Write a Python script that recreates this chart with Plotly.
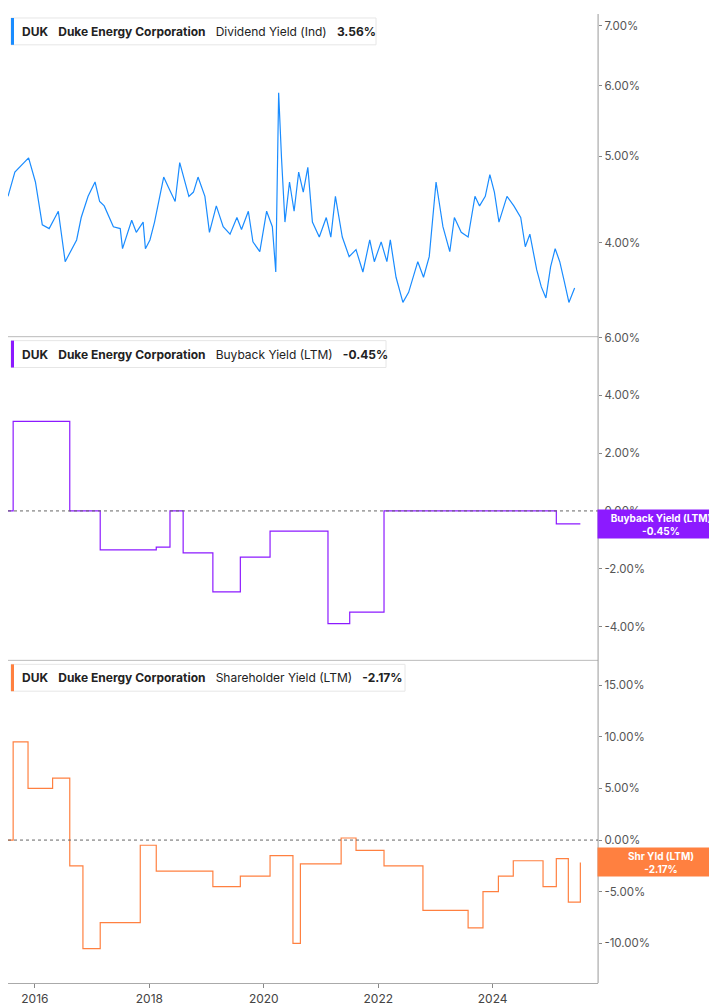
import pandas as pd
import plotly.graph_objects as go

# dividend yield (ind), % -- decimal years
div_years = [
    2015.53, 2015.65, 2015.89, 2016.01, 2016.13, 2016.25, 2016.41, 2016.53, 2016.53, 2016.73,
    2016.81, 2016.93, 2017.05, 2017.13, 2017.21, 2017.37, 2017.49, 2017.53, 2017.69, 2017.77,
    2017.89, 2017.93, 2018.01, 2018.09, 2018.25, 2018.33, 2018.45, 2018.53, 2018.69, 2018.77,
    2018.85, 2018.97, 2019.05, 2019.17, 2019.29, 2019.41, 2019.53, 2019.61, 2019.73, 2019.81,
    2019.93, 2020.05, 2020.15, 2020.21, 2020.23, 2020.26, 2020.31, 2020.37, 2020.45, 2020.53,
    2020.61, 2020.69, 2020.77, 2020.85, 2020.97, 2021.09, 2021.17, 2021.25, 2021.37, 2021.49,
    2021.61, 2021.73, 2021.85, 2021.93, 2022.05, 2022.15, 2022.21, 2022.31, 2022.43, 2022.53,
    2022.69, 2022.79, 2022.89, 2023.01, 2023.13, 2023.25, 2023.33, 2023.45, 2023.57, 2023.69,
    2023.77, 2023.87, 2023.95, 2024.03, 2024.11, 2024.25, 2024.37, 2024.49, 2024.57, 2024.65,
    2024.77, 2024.85, 2024.93, 2025.01, 2025.09, 2025.17, 2025.25, 2025.33, 2025.43,
]
div_yield = [
    4.51, 4.80, 4.98, 4.68, 4.19, 4.15, 4.34, 3.81, 3.81, 4.03,
    4.27, 4.51, 4.68, 4.45, 4.40, 4.17, 4.15, 3.94, 4.24, 4.11,
    4.22, 3.94, 4.03, 4.22, 4.74, 4.62, 4.45, 4.92, 4.51, 4.56,
    4.74, 4.51, 4.11, 4.40, 4.17, 4.09, 4.27, 4.14, 4.34, 4.01,
    3.91, 4.34, 4.17, 3.71, 4.68, 5.89, 4.98, 4.22, 4.68, 4.34,
    4.80, 4.56, 4.86, 4.22, 4.06, 4.27, 4.06, 4.51, 4.06, 3.86,
    3.93, 3.71, 4.03, 3.81, 4.01, 3.81, 4.03, 3.66, 3.43, 3.52,
    3.81, 3.66, 3.86, 4.68, 4.17, 3.91, 4.27, 4.11, 4.06, 4.51,
    4.40, 4.51, 4.77, 4.56, 4.22, 4.51, 4.40, 4.27, 3.96, 4.09,
    3.73, 3.57, 3.47, 3.76, 3.94, 3.81, 3.62, 3.43, 3.56,
]

# buyback yield (LTM), % -- step changes
bb_years = [2015.53, 2015.62, 2015.62, 2016.61, 2016.61, 2017.14, 2018.12, 2018.36, 2018.59,
            2019.11, 2019.59, 2020.11, 2021.12, 2021.50, 2022.10, 2022.10, 2025.11, 2025.53]
bb_yield = [0.0, 0.0, 3.1, 2.5, 0.0, -1.35, -1.25, 0.0, -1.45,
            -2.8, -1.6, -0.7, -3.9, -3.5, -3.4, 0.0, -0.45, -0.45]

# shareholder yield (LTM), %
sh_years = [2015.53, 2015.62, 2015.62, 2015.88, 2015.88, 2016.31, 2016.61, 2016.84, 2017.14,
            2017.84, 2017.84, 2018.12, 2018.59, 2019.11, 2019.59, 2020.11, 2020.51, 2020.64,
            2021.35, 2021.61, 2022.10, 2022.78, 2023.57, 2023.83, 2024.10, 2024.36, 2024.88,
            2025.11, 2025.32, 2025.53]
sh_yield = [0.0, 0.0, 9.5, 7.5, 5.0, 6.0, -2.5, -10.5, -8.0,
            -8.0, -0.5, -3.0, -3.0, -4.5, -3.5, -1.5, -10.0, -2.3,
            0.2, -1.0, -2.5, -6.8, -8.5, -5.0, -3.5, -2.0, -4.5,
            -1.8, -6.0, -2.17]

div_ticks = [4, 5, 6, 7]
bb_ticks = [-4, -2, 0, 2, 4, 6]
sh_ticks = [-10, -5, 0, 5, 10, 15]


def to_dates(years):
    out = []
    for y in years:
        yr = int(y)
        start = pd.Timestamp(year=yr, month=1, day=1)
        out.append(start + pd.Timedelta(days=(y - yr) * 365.25))
    return out


def pct(vals):
    return [f"{v:.2f}%" for v in vals]


BLUE = "#1a8cff"
PURPLE = "#8c1aff"
ORANGE = "#ff8040"
FONT = "Inter"

fig = go.Figure()
fig.add_trace(go.Scatter(x=to_dates(div_years), y=div_yield, mode="lines",
                         line=dict(color=BLUE, width=1.2), yaxis="y"))
fig.add_trace(go.Scatter(x=to_dates(bb_years), y=bb_yield, mode="lines",
                         line=dict(color=PURPLE, width=1.2, shape="hv"), yaxis="y2"))
fig.add_trace(go.Scatter(x=to_dates(sh_years), y=sh_yield, mode="lines",
                         line=dict(color=ORANGE, width=1.2, shape="hv"), yaxis="y3"))

xr = to_dates([2015.53, 2025.84])
tick_font = dict(family=FONT, size=11.5, color="#555")
yax = dict(side="right", anchor="x", showgrid=False, zeroline=False, ticks="outside",
           ticklen=3, tickcolor="#888", tickfont=tick_font, showline=False)

fig.update_layout(
    width=717, height=1005, margin=dict(l=0, r=0, t=0, b=0),
    plot_bgcolor="white", paper_bgcolor="white", showlegend=False,
    xaxis=dict(domain=[0, 0.823], range=xr, anchor="y3", showgrid=False, ticks="outside",
               ticklen=4, tickcolor="#888", dtick="M24", tick0="2016-01-01",
               tickformat="%Y", tickfont=dict(family=FONT, size=12, color="#444"),
               showline=True, linecolor="#aaa"),
    yaxis=dict(yax, domain=[0.677, 1.0], type="log",
               range=[0.4969, 0.8585], tickvals=div_ticks, ticktext=pct(div_ticks)),
    yaxis2=dict(yax, domain=[0.353, 0.677], range=[-5.17, 6.03],
                tickvals=bb_ticks, ticktext=pct(bb_ticks)),
    yaxis3=dict(yax, domain=[0.0299, 0.353], range=[-13.85, 17.4],
                tickvals=sh_ticks, ticktext=pct(sh_ticks)),
)

# panel separators, right axis line, zero lines
for yp in [0.353, 0.677]:
    fig.add_shape(type="line", xref="paper", yref="paper", x0=0, x1=0.823, y0=yp, y1=yp,
                  line=dict(color="#bbb", width=1))
fig.add_shape(type="line", xref="paper", yref="paper", x0=0.823, x1=0.823, y0=0.0299, y1=1,
              line=dict(color="#999", width=1))
for ya in ["y2", "y3"]:
    fig.add_shape(type="line", xref="paper", yref=ya, x0=0, x1=0.823, y0=0, y1=0,
                  line=dict(color="#666", width=1, dash="dot"))

# header boxes
headers = [
    (1.0, BLUE, "Dividend Yield (Ind)", "3.56%", 368),
    (0.677, PURPLE, "Buyback Yield (LTM)", "-0.45%", 378),
    (0.353, ORANGE, "Shareholder Yield (LTM)", "-2.17%", 397),
]
for top, col, name, val, w in headers:
    ypix = (1 - top) * 1005
    fig.add_shape(type="rect", xref="paper", yref="paper", x0=3 / 717, x1=w / 717,
                  y0=1 - (ypix + 31) / 1005, y1=1 - (ypix + 4) / 1005,
                  line=dict(color="#e6e6e6", width=1), fillcolor="white")
    fig.add_shape(type="rect", xref="paper", yref="paper", x0=3 / 717, x1=6 / 717,
                  y0=1 - (ypix + 31) / 1005, y1=1 - (ypix + 4) / 1005,
                  line=dict(width=0), fillcolor=col)
    fig.add_annotation(xref="paper", yref="paper", x=12 / 717, y=1 - (ypix + 17.5) / 1005,
                       xanchor="left", yanchor="middle", showarrow=False,
                       text=f"<b>DUK</b>   <b>Duke Energy Corporation</b>   {name}   <b>{val}</b>",
                       font=dict(family=FONT, size=12, color="#222"))

# right value tags
tags = [("y", 3.56, BLUE, "Div Yld (Ind)<br>3.56%"),
        ("y2", -0.45, PURPLE, "Buyback Yield (LTM)<br>-0.45%"),
        ("y3", -2.17, ORANGE, "Shr Yld (LTM)<br>-2.17%")]
for ya, v, col, txt in tags:
    fig.add_annotation(xref="paper", yref=ya, x=1.0, y=v, xanchor="right", yanchor="middle",
                       showarrow=False, text=f"<b>{txt}</b>", bgcolor=col, width=124,
                       height=26, borderpad=1, align="center",
                       font=dict(family=FONT, size=10, color="white"))

fig.write_html("out.html")
